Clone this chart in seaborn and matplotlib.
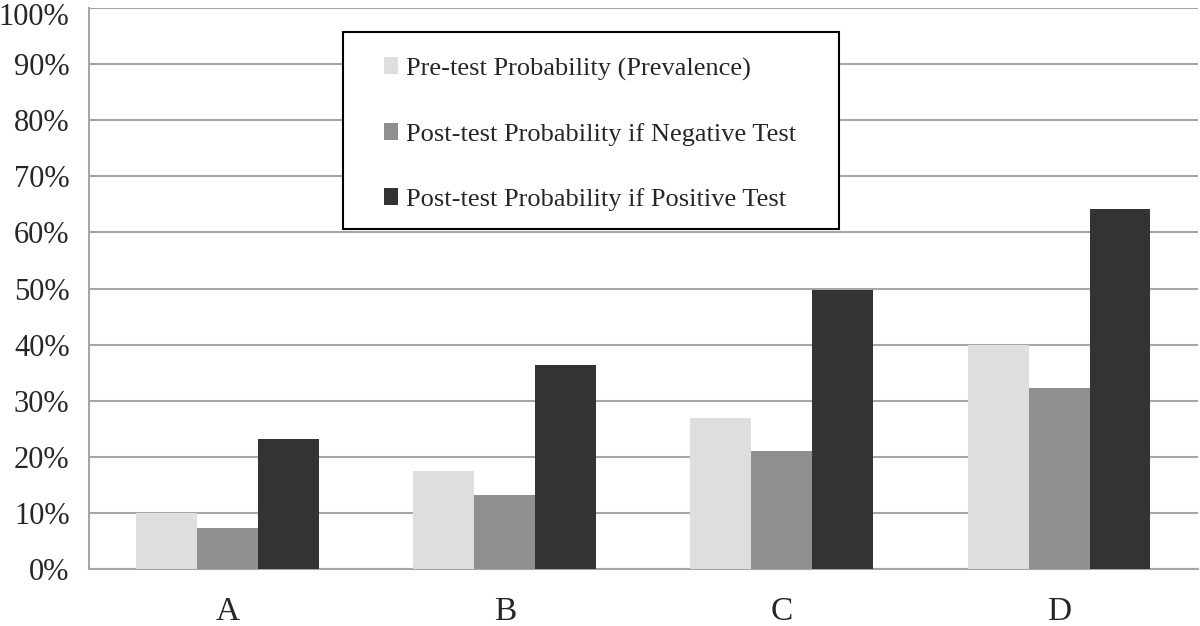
import numpy as np
import pandas as pd
import matplotlib.pyplot as plt
import matplotlib.transforms as mtransforms
from matplotlib.patches import Rectangle
import seaborn as sns
from matplotlib.ticker import PercentFormatter, FixedLocator

# data (percent)
groups = ["A", "B", "C", "D"]
pre_test = [10.0, 17.5, 26.9, 40.0]
post_neg = [7.3, 13.2, 21.0, 32.3]
post_pos = [23.1, 36.4, 49.7, 64.2]
series_names = ["Pre-test Probability (Prevalence)",
                "Post-test Probability if Negative Test",
                "Post-test Probability if Positive Test"]
series_colors = ["#dedede", "#8f8f8f", "#333333"]

df = pd.DataFrame({
    "group": groups * 3,
    "value": pre_test + post_neg + post_pos,
    "series": [series_names[0]] * 4 + [series_names[1]] * 4 + [series_names[2]] * 4,
})

sns.set_style("white")
plt.rcParams["font.family"] = ["Liberation Serif", "DejaVu Serif"]

fig = plt.figure(figsize=(12, 6.26), dpi=100)
ax = fig.add_axes([0.0742, 0.091, 0.9238, 0.896])

sns.barplot(data=df, x="group", y="value", hue="series", palette=series_colors,
            width=0.66, gap=0, saturation=1, edgecolor="none", ax=ax, zorder=3)

ax.set_ylim(0, 100)
ax.set_xlim(-0.5, 3.5)
ax.yaxis.set_major_locator(FixedLocator(np.arange(0, 101, 10)))
ax.yaxis.set_major_formatter(PercentFormatter(decimals=0))
ax.grid(axis="y", color="#a6a6a6", linewidth=1.5, zorder=0)
ax.set_axisbelow(True)

for side in ["top", "right"]:
    ax.spines[side].set_visible(False)
for side in ["left", "bottom"]:
    ax.spines[side].set_color("#a6a6a6")
    ax.spines[side].set_linewidth(1.5)

ax.tick_params(axis="y", length=8, width=1.5, color="#a6a6a6", labelsize=22, pad=6)
ax.tick_params(axis="x", which="major", length=0, labelsize=24, pad=20)
ax.xaxis.set_minor_locator(FixedLocator([-0.5, 0.5, 1.5, 2.5, 3.5]))
ax.tick_params(axis="x", which="minor", length=9, width=1.5, color="#a6a6a6")

# nudge the top label down a little so it stays inside the image
top_lab = ax.get_yticklabels()[-1]
top_lab.set_transform(top_lab.get_transform() +
                      mtransforms.ScaledTranslation(0, -4 / 72, fig.dpi_scale_trans))

ax.set_xlabel("")
ax.set_ylabel("")

# legend box: plain black frame, wider side padding than top/bottom
ax.add_patch(Rectangle((0.229, 0.606), 0.4473, 0.351, transform=ax.transAxes,
                       facecolor="white", edgecolor="black", linewidth=1.5,
                       zorder=4, clip_on=False))
leg = ax.legend(loc="upper left", bbox_to_anchor=(0.266, 0.912), borderaxespad=0,
                fontsize=19, frameon=False,
                handlelength=0.55, handleheight=0.6, handletextpad=0.3,
                labelspacing=1.6, borderpad=0, title=None)
leg.set_zorder(5)

plt.savefig("out.png", dpi=100)
